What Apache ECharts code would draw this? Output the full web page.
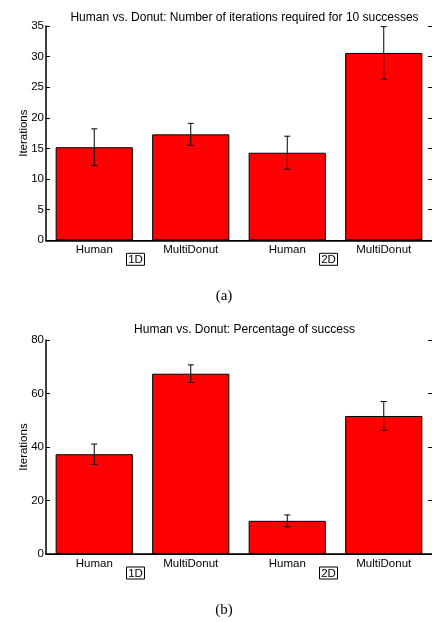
<!DOCTYPE html>
<html><head><meta charset="utf-8">
<script src="https://cdn.jsdelivr.net/npm/echarts@6/dist/echarts.min.js"></script>
<style>html,body{margin:0;padding:0;background:#fff}#c{width:432px;height:622px}</style>
</head><body><div id="c"></div>
<script>
const categories = ['Human', 'MultiDonut', 'Human', 'MultiDonut'];
const groupLabels = ['1D', '2D'];
const groupAfterIndex = [0, 2];
const iterMeans = [15.2, 17.3, 14.3, 30.6];
const iterErr = [3.0, 1.8, 2.7, 4.3];
const succMeans = [37.3, 67.4, 12.4, 51.6];
const succErr = [3.8, 3.3, 2.2, 5.4];
const titleA = 'Human vs. Donut: Number of iterations required for 10 successes';
const titleB = 'Human vs. Donut: Percentage of success';
const yTitle = 'Iterations';
const yTicksA = { min: 0, max: 35, interval: 5 };
const yTicksB = { min: 0, max: 80, interval: 20 };
const captions = ['(a)', '(b)'];

const SANS = "'Liberation Sans', Arial, Helvetica, sans-serif";
const SERIF = "'Liberation Serif', 'Times New Roman', serif";

function errData(means, errs) {
  return means.map((m, i) => [i, m + errs[i], m - errs[i]]);
}

function errRender(params, api) {
  const x = api.value(0);
  const top = api.coord([x, api.value(1)]);
  const bot = api.coord([x, api.value(2)]);
  const hw = 3;
  const st = { stroke: '#000', lineWidth: 1 };
  return {
    type: 'group',
    children: [
      { type: 'line', shape: { x1: top[0], y1: top[1], x2: bot[0], y2: bot[1] }, style: st },
      { type: 'line', shape: { x1: top[0] - hw, y1: top[1], x2: top[0] + hw, y2: top[1] }, style: st },
      { type: 'line', shape: { x1: bot[0] - hw, y1: bot[1], x2: bot[0] + hw, y2: bot[1] }, style: st }
    ]
  };
}

function boxRender(params, api) {
  const i = api.value(0);
  const a = api.coord([i, 0]);
  const b = api.coord([i + 1, 0]);
  const cx = (a[0] + b[0]) / 2 - 7;
  const cy = a[1] + 19;
  const text = groupLabels[params.dataIndex];
  return {
    type: 'group',
    children: [
      { type: 'rect', shape: { x: cx - 9, y: cy - 6, width: 18, height: 12 }, style: { fill: '#fff', stroke: '#000', lineWidth: 1 } },
      { type: 'text', style: { text: text, x: cx, y: cy + 0.5, align: 'center', verticalAlign: 'middle', font: '11.5px ' + SANS, fill: '#000' } }
    ]
  };
}

function xAxes(gridIndex) {
  return [
    {
      type: 'category', gridIndex, data: categories, position: 'bottom',
      axisLine: { lineStyle: { color: '#000', width: 1.5 } },
      axisTick: { show: false },
      axisLabel: { color: '#000', fontSize: 11.5, fontFamily: SANS, margin: 4 },
      splitLine: { show: false }
    },
    {
      type: 'category', gridIndex, data: categories, position: 'top',
      axisLine: { lineStyle: { color: '#000', width: 1 } },
      axisTick: { alignWithLabel: true, inside: true, length: 4, lineStyle: { color: '#000' } },
      axisLabel: { show: false },
      splitLine: { show: false }
    }
  ];
}

function yAxes(gridIndex, ticks) {
  return [
    {
      type: 'value', gridIndex, position: 'left', min: ticks.min, max: ticks.max, interval: ticks.interval,
      name: yTitle, nameLocation: 'middle', nameRotate: 90, nameGap: 16, nameMoveOverlap: false,
      nameTextStyle: { color: '#000', fontSize: 11.5, fontFamily: SANS },
      axisLine: { show: true, lineStyle: { color: '#000', width: 1.5 } },
      axisTick: { show: true, inside: true, length: 4, lineStyle: { color: '#000' } },
      axisLabel: { color: '#000', fontSize: 11.5, fontFamily: SANS, margin: 2 },
      splitLine: { show: false }
    },
    {
      type: 'value', gridIndex, position: 'right', min: ticks.min, max: ticks.max, interval: ticks.interval,
      axisLine: { show: true, lineStyle: { color: '#000', width: 1 } },
      axisTick: { show: true, inside: true, length: 4, lineStyle: { color: '#000' } },
      axisLabel: { show: false },
      splitLine: { show: false }
    }
  ];
}

function barSeries(xi, yi, means) {
  return {
    type: 'bar', xAxisIndex: xi, yAxisIndex: yi, data: means, barWidth: '80%',
    itemStyle: { color: '#ff0000', borderColor: '#000', borderWidth: 1 },
    silent: true, animation: false
  };
}

const chart = echarts.init(document.getElementById('c'), null, { renderer: 'canvas' });
chart.setOption({
  animation: false,
  backgroundColor: '#fff',
  title: [
    { text: titleA, left: 239.5, top: 7, textAlign: 'center', textStyle: { fontSize: 12, fontWeight: 'normal', color: '#000', fontFamily: SANS } },
    { text: titleB, left: 239.5, top: 319, textAlign: 'center', textStyle: { fontSize: 12, fontWeight: 'normal', color: '#000', fontFamily: SANS } },
    { text: captions[0], left: 219, top: 284, textAlign: 'center', textStyle: { fontSize: 15, fontWeight: 'normal', color: '#000', fontFamily: SERIF } },
    { text: captions[1], left: 219, top: 598, textAlign: 'center', textStyle: { fontSize: 15, fontWeight: 'normal', color: '#000', fontFamily: SERIF } }
  ],
  grid: [
    { left: 46, right: -1, top: 26, height: 214.3 },
    { left: 46, right: -1, top: 340, height: 214 }
  ],
  xAxis: [...xAxes(0), ...xAxes(1)],
  yAxis: [...yAxes(0, yTicksA), ...yAxes(1, yTicksB)],
  series: [
    barSeries(0, 0, iterMeans),
    { type: 'custom', xAxisIndex: 0, yAxisIndex: 0, renderItem: errRender, data: errData(iterMeans, iterErr), z: 5, silent: true },
    { type: 'custom', xAxisIndex: 0, yAxisIndex: 0, renderItem: boxRender, data: groupAfterIndex.map(i => [i]), z: 5, silent: true, clip: false },
    barSeries(2, 2, succMeans),
    { type: 'custom', xAxisIndex: 2, yAxisIndex: 2, renderItem: errRender, data: errData(succMeans, succErr), z: 5, silent: true },
    { type: 'custom', xAxisIndex: 2, yAxisIndex: 2, renderItem: boxRender, data: groupAfterIndex.map(i => [i]), z: 5, silent: true, clip: false }
  ]
});
</script>
</body></html>
